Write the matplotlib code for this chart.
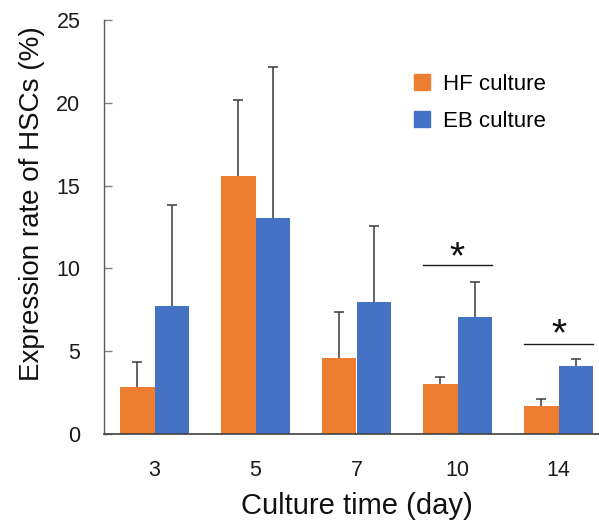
import matplotlib
matplotlib.use("Agg")
import matplotlib.pyplot as plt
from matplotlib.patches import Patch
import numpy as np

plt.rcParams['font.family'] = ['Liberation Sans', 'DejaVu Sans']

days = ["3", "5", "7", "10", "14"]
hf_mean = [2.86, 15.6, 4.57, 3.0, 1.69]
hf_err = [1.47, 4.55, 2.82, 0.43, 0.41]
eb_mean = [7.71, 13.03, 8.0, 7.07, 4.09]
eb_err = [6.14, 9.15, 4.57, 2.12, 0.41]

# significance markers: (category index, bar line height, star height)
sig_idx = [3, 4]
sig_line = [10.2, 5.42]
sig_star = [10.6, 5.95]

hf_color = "#ED7D31"
eb_color = "#4472C4"
err_color = "#3a3a3a"

W, H = 599, 523
fig = plt.figure(figsize=(W / 100, H / 100), dpi=100)
ax = fig.add_axes([104 / W, (H - 434) / H, 505 / W, 414 / H])

x = np.arange(len(days))
bw = 0.337

ax.bar(x - bw / 2, hf_mean, bw, color=hf_color, zorder=2)
ax.bar(x + bw / 2, eb_mean, bw, color=eb_color, zorder=2)


def upper_errorbars(xpos, means, errs):
    """Error bars that only extend upward, capped at the top."""
    eb = ax.errorbar(xpos, means, yerr=[np.zeros(len(xpos)), errs], fmt="none",
                     ecolor=err_color, elinewidth=1.1, capsize=3.8,
                     capthick=1.1, zorder=3)
    _, caps, _ = eb.lines
    for cap in caps:
        if np.allclose(cap.get_ydata(), means):
            cap.set_visible(False)


upper_errorbars(x - bw / 2, hf_mean, hf_err)
upper_errorbars(x + bw / 2, eb_mean, eb_err)

for i, yl, ys in zip(sig_idx, sig_line, sig_star):
    ax.plot([i - bw, i + bw], [yl, yl], color="#1a1a1a", lw=1.0, zorder=3)
    ax.text(i, ys, "*", ha="center", va="center", fontsize=28, color="#111111")

ax.set_xlim(-0.5, len(days) - 0.5)
ax.set_ylim(0, 25)
ax.set_yticks([0, 5, 10, 15, 20, 25])
ax.set_xticks(x)
ax.set_xticklabels(days)

for s in ("top", "right"):
    ax.spines[s].set_visible(False)
ax.spines["left"].set_color("#595959")
ax.spines["bottom"].set_color("#404040")
ax.spines["left"].set_linewidth(1.0)
ax.spines["bottom"].set_linewidth(1.2)

ax.tick_params(axis="y", direction="in", length=6, width=1.0, color="#808080",
               labelsize=15.5, pad=17, labelcolor="#1a1a1a")
ax.tick_params(axis="x", length=0, labelsize=15.5, pad=19, labelcolor="#1a1a1a")

ax.set_ylabel("Expression rate of HSCs (%)", fontsize=20, color="#111111")
ax.yaxis.set_label_coords((45 - 104) / 505, (434 - 204) / 414)
ax.set_xlabel("Culture time (day)", fontsize=21, labelpad=8, color="#111111")

handles = [Patch(color=hf_color), Patch(color=eb_color)]
ax.legend(handles, ["HF culture", "EB culture"], loc="upper left",
          bbox_to_anchor=(310 / 505, 1 - 54 / 414), frameon=False,
          fontsize=16, handlelength=0.7, handleheight=0.7, handletextpad=0.6,
          labelspacing=0.72, borderaxespad=0, borderpad=0)

fig.savefig("out.png", dpi=100)
